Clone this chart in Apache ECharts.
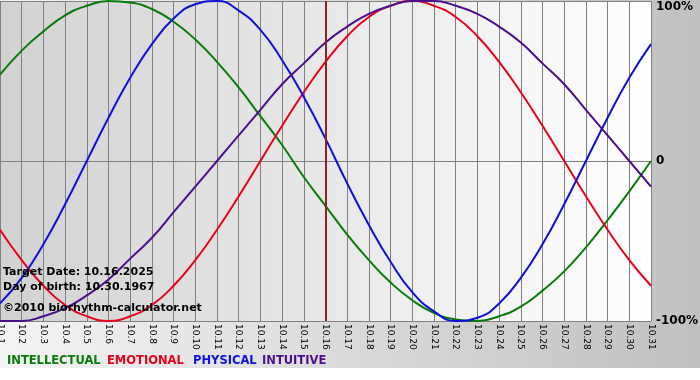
<!DOCTYPE html>
<html><head><meta charset="utf-8">
<script src="https://cdn.jsdelivr.net/npm/echarts@6/dist/echarts.min.js"></script>
<style>
html,body{margin:0;padding:0;background:#fff;}
#c{width:700px;height:380px;background:linear-gradient(to right,#f4f4f4,#c0c0c0) no-repeat;background-size:700px 368px;}
</style></head><body>
<div id="c"></div>
<script>
const days = ['10.1','10.2','10.3','10.4','10.5','10.6','10.7','10.8','10.9','10.10','10.11','10.12','10.13','10.14','10.15','10.16','10.17','10.18','10.19','10.20','10.21','10.22','10.23','10.24','10.25','10.26','10.27','10.28','10.29','10.30','10.31'];
const intellectual = [54,69,81,91,97,100,99,95,87,76,62,46,28,10,-10,-28,-46,-62,-76,-87,-95,-99,-100,-97,-91,-81,-69,-54,-37,-19,0];
const emotional = [-43,-62,-78,-90,-97,-100,-97,-90,-78,-62,-43,-22,0,22,43,62,78,90,97,100,97,90,78,62,43,22,0,-22,-43,-62,-78];
const physical = [-89,-73,-52,-27,0,27,52,73,89,98,100,94,82,63,40,14,-14,-40,-63,-82,-94,-100,-98,-89,-73,-52,-27,0,27,52,73];
const intuitive = [-100,-100,-97,-92,-84,-74,-61,-48,-32,-16,0,16,32,48,61,74,84,92,97,100,100,97,92,84,74,61,48,32,16,0,-16];
const yTicks = {'100':'100%','0':'0','-100':'-100%'};
const targetDay = '10.16';
const infoLines = ['Target Date: 10.16.2025','Day of birth: 10.30.1967','\u00a92010 biorhythm-calculator.net'];
const legendItems = [['INTELLECTUAL','#0a7a0a'],['EMOTIONAL','#e8001c'],['PHYSICAL','#1010d8'],['INTUITIVE','#4b0f8c']];

const font = 'DejaVu Sans, Verdana, sans-serif';
const chart = echarts.init(document.getElementById('c'));
function line(name, data, color, extra){
  return Object.assign({name, type:'line', data, smooth:true, symbol:'none',
    lineStyle:{color, width:2}, itemStyle:{color}, z:3}, extra||{});
}
const graphics = [];
infoLines.forEach((t,i)=>{
  graphics.push({type:'text', left:3, top:[267,282,303][i], z:10,
    style:{text:t, font:'bold 11px '+font, fill:'#000'}});
});
const lpos = [7,107,193,262];
legendItems.forEach((it,i)=>{
  graphics.push({type:'text', left:lpos[i], top:355, z:10,
    style:{text:it[0], font:'bold 11.5px '+font, fill:it[1]}});
});
chart.setOption({
  animation:false,
  backgroundColor:'transparent',
  grid:{left:0, right:49, top:1, bottom:59, show:true, borderWidth:0, containLabel:false, outerBoundsMode:'none',
    backgroundColor:new echarts.graphic.LinearGradient(0,0,1,0,[{offset:0,color:'#d2d2d2'},{offset:1,color:'#ffffff'}])},
  xAxis:{type:'category', data:days, boundaryGap:false,
    axisLine:{lineStyle:{color:'#808080', width:1}},
    axisTick:{show:true, length:3, lineStyle:{color:'#808080'}},
    splitLine:{show:true, lineStyle:{color:'#808080', width:1}},
    axisLabel:{rotate:-90, interval:0, margin:3, fontSize:9, color:'#000', fontFamily:font}},
  yAxis:{type:'value', min:-100, max:100, interval:100, position:'right',
    axisLine:{show:false}, axisTick:{show:false},
    splitLine:{show:true, lineStyle:{color:'#808080', width:1}},
    axisLabel:{margin:5, fontSize:12, fontWeight:'bold', color:'#000', fontFamily:font,
      formatter:v=>yTicks[String(v)], verticalAlignMaxLabel:'top'}},
  graphic:graphics,
  series:[
    line('INTELLECTUAL', intellectual, '#0a7a0a'),
    line('EMOTIONAL', emotional, '#e8001c'),
    line('PHYSICAL', physical, '#1010d8'),
    line('INTUITIVE', intuitive, '#4b0f8c', {markLine:{symbol:'none', silent:true, label:{show:false},
      lineStyle:{color:'#8b2323', width:2, type:'solid'}, data:[{xAxis:targetDay}]}})
  ]
});
</script></body></html>
